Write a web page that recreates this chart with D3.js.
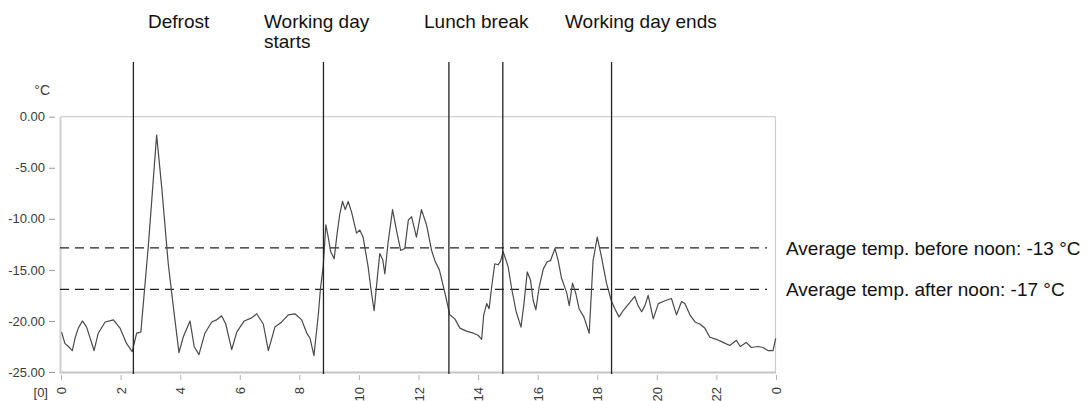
<!DOCTYPE html>
<html>
<head>
<meta charset="utf-8">
<script src="https://cdn.jsdelivr.net/npm/d3@7/dist/d3.min.js"></script>
<style>
  html, body { margin: 0; padding: 0; background: #ffffff; }
  svg { display: block; }
  text { font-family: "Liberation Sans", Arial, Helvetica, sans-serif; }
</style>
</head>
<body>
<svg id="chart" width="1091" height="401"></svg>
<script>
// ---- data ----
const hours = [0.02,0.13,0.25,0.38,0.47,0.58,0.72,0.86,1.11,1.25,1.48,1.76,1.98,2.2,2.39,2.54,2.68,2.93,3.21,3.38,3.6,3.77,3.96,4.1,4.33,4.47,4.63,4.83,5.06,5.22,5.39,5.53,5.73,5.9,6.15,6.4,6.57,6.79,6.96,7.18,7.41,7.63,7.85,8.08,8.25,8.36,8.49,8.64,8.71,8.8,8.89,8.97,9.05,9.17,9.27,9.36,9.45,9.54,9.64,9.75,9.92,10.03,10.14,10.31,10.4,10.51,10.61,10.7,10.8,10.87,10.98,11.13,11.26,11.4,11.54,11.66,11.77,11.93,12.1,12.27,12.44,12.55,12.7,12.89,13.05,13.22,13.39,13.61,13.84,14.0,14.12,14.19,14.29,14.37,14.45,14.56,14.67,14.75,14.84,15.01,15.12,15.27,15.44,15.54,15.65,15.76,15.85,15.94,16.05,16.19,16.32,16.43,16.58,16.69,16.8,16.97,17.06,17.17,17.28,17.39,17.55,17.73,17.86,18.0,18.14,18.31,18.48,18.59,18.73,18.87,18.98,19.26,19.37,19.49,19.6,19.71,19.88,20.05,20.21,20.49,20.66,20.83,20.94,21.11,21.28,21.44,21.61,21.78,22.0,22.22,22.45,22.67,22.8,23.0,23.17,23.39,23.56,23.73,23.9,23.99];
const temps = [-21.1,-22.2,-22.5,-22.9,-21.7,-20.7,-20.0,-20.6,-22.9,-21.2,-20.1,-19.9,-20.7,-22.2,-23.0,-21.2,-21.1,-12.7,-1.8,-6.9,-14.4,-18.6,-23.1,-21.6,-20.0,-22.5,-23.3,-21.2,-20.1,-19.9,-19.5,-20.3,-22.8,-21.1,-20.0,-19.7,-19.3,-20.3,-22.9,-20.6,-20.1,-19.4,-19.3,-19.9,-21.2,-21.7,-23.4,-19.3,-16.8,-14.7,-10.6,-11.8,-13.2,-13.9,-11.4,-9.5,-8.3,-9.1,-8.3,-9.3,-11.4,-11.1,-11.8,-14.7,-16.8,-19.0,-16.0,-13.4,-14.0,-15.4,-12.3,-9.1,-11.1,-13.1,-12.9,-10.1,-9.8,-11.8,-9.1,-10.6,-13.1,-14.1,-15.0,-17.3,-19.4,-19.8,-20.7,-21.0,-21.2,-21.4,-21.8,-19.4,-18.3,-18.8,-16.8,-14.4,-14.5,-14.2,-13.2,-14.7,-16.7,-19.0,-20.6,-18.3,-15.2,-16.0,-18.0,-18.9,-16.7,-14.9,-14.2,-14.1,-12.9,-14.1,-15.8,-17.2,-18.5,-16.3,-17.3,-18.8,-19.6,-21.2,-14.1,-11.8,-13.7,-16.3,-18.1,-18.8,-19.6,-19.0,-18.6,-17.6,-18.5,-19.1,-18.5,-17.5,-19.8,-18.3,-18.1,-17.8,-19.4,-18.1,-18.3,-19.4,-20.1,-20.3,-20.7,-21.6,-21.8,-22.1,-22.4,-21.9,-22.5,-22.1,-22.6,-22.5,-22.6,-22.9,-22.9,-21.7];

const yTicks = [0, -5, -10, -15, -20, -25];
const xTicks = [0, 2, 4, 6, 8, 10, 12, 14, 16, 18, 20, 22, 24];
const xTickLabels = ["0","2","4","6","8","10","12","14","16","18","20","22","0"];

const eventHours = [2.43, 8.81, 13.02, 14.83, 18.48];
const eventLabels = [["Defrost"], ["Working day", "starts"], ["Lunch break"], ["Working day ends"]];

const avgValues = [-12.85, -16.9];
const avgLabels = ["Average temp. before noon: -13 °C", "Average temp. after noon: -17 °C"];

const unitLabel = "°C";
const originLabel = "[0]";

// ---- layout ----
const svg = d3.select("#chart");
const x = d3.scaleLinear().domain([0, 24]).range([61, 776]);
const y = d3.scaleLinear().domain([-25, 0]).range([372, 116.7]);

const gridCol = "#cfcfcf";
const labCol = "#3a3a3a";

// frame
svg.append("line").attr("x1", x(0)).attr("x2", 775.5).attr("y1", y(0)).attr("y2", y(0))
  .attr("stroke", gridCol).attr("stroke-width", 1.2);
svg.append("line").attr("x1", 775.5).attr("x2", 775.5).attr("y1", y(0)).attr("y2", y(-25) + 1)
  .attr("stroke", gridCol).attr("stroke-width", 1.2);
svg.append("line").attr("x1", 60.5).attr("x2", 60.5).attr("y1", y(0)).attr("y2", y(-25) + 2)
  .attr("stroke", gridCol).attr("stroke-width", 2);
svg.append("line").attr("x1", 61).attr("x2", 776).attr("y1", y(-25) + 0.5).attr("y2", y(-25) + 0.5)
  .attr("stroke", "#c4c4c4").attr("stroke-width", 2.2);

// y axis
const yAxis = d3.axisLeft(y).tickValues(yTicks).tickFormat(d => d.toFixed(2)).tickSize(6).tickPadding(4);
const gy = svg.append("g").attr("transform", "translate(55,0)").call(yAxis);
gy.select(".domain").remove();
gy.selectAll(".tick line").attr("stroke", "#9a9a9a");
gy.selectAll(".tick text").attr("fill", labCol).style("font-size", "13px")
  .style("font-family", "'Liberation Sans', Arial, sans-serif");

// x axis
const xAxis = d3.axisBottom(x).tickValues(xTicks).tickFormat((d, i) => xTickLabels[i]).tickSize(5).tickPadding(4);
const gx = svg.append("g").attr("transform", "translate(0,375)").call(xAxis);
gx.select(".domain").remove();
gx.selectAll(".tick line").attr("stroke", "#b0b0b0");
gx.selectAll(".tick text").attr("fill", labCol).style("font-size", "13px")
  .style("font-family", "'Liberation Sans', Arial, sans-serif")
  .attr("transform", "rotate(-90)").attr("text-anchor", "end")
  .attr("x", -12).attr("y", 0).attr("dy", "0.35em");

svg.append("text").attr("x", 50).attr("y", 95).attr("text-anchor", "end")
  .attr("fill", labCol).style("font-size", "14px").text(unitLabel);
svg.append("text").attr("x", 48).attr("y", 397).attr("text-anchor", "end")
  .attr("fill", labCol).style("font-size", "13px").text(originLabel);

// average dashed lines
svg.selectAll(".avg").data(avgValues).enter().append("line")
  .attr("x1", 60).attr("x2", 767)
  .attr("y1", d => y(d)).attr("y2", d => y(d))
  .attr("stroke", "#222").attr("stroke-width", 1.2).attr("stroke-dasharray", "9,6");
svg.selectAll(".avgl").data(avgLabels).enter().append("text")
  .attr("x", 786).attr("y", (d, i) => y(avgValues[i])).attr("dy", "0.35em")
  .attr("fill", "#111").style("font-size", "19px").text(d => d);

// data line
const line = d3.line().x(d => x(d[0])).y(d => y(d[1]));
svg.append("path").datum(hours.map((h, i) => [h, temps[i]]))
  .attr("fill", "none").attr("stroke", "#4a4a4a").attr("stroke-width", 1.2)
  .attr("stroke-linejoin", "round").attr("d", line);

// event lines
svg.selectAll(".ev").data(eventHours).enter().append("line")
  .attr("x1", d => x(d)).attr("x2", d => x(d)).attr("y1", 62).attr("y2", 374)
  .attr("stroke", "#222").attr("stroke-width", 1.3);

// event labels
const labelX = [148, 264, 424, 565];
eventLabels.forEach((lines, i) => {
  const t = svg.append("text").attr("x", labelX[i]).attr("y", 28)
    .attr("fill", "#111").style("font-size", "19px");
  lines.forEach((s, j) => t.append("tspan").attr("x", labelX[i]).attr("dy", j === 0 ? 0 : 20).text(s));
});
</script>
</body>
</html>
